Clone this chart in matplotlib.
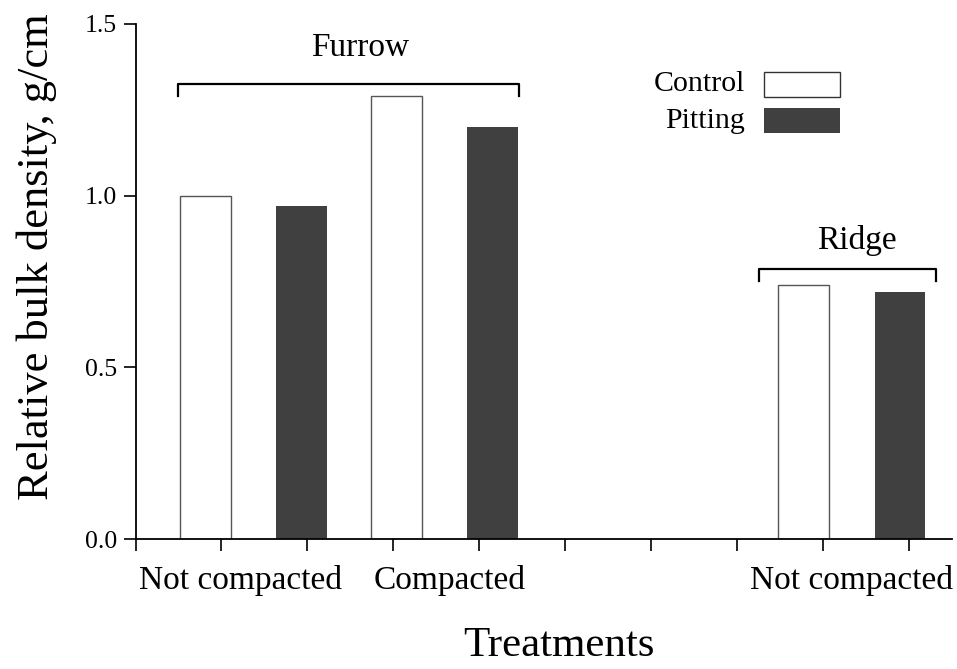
import matplotlib.pyplot as plt
from matplotlib.patches import Rectangle

plt.rcParams['font.family'] = ['Liberation Serif', 'DejaVu Serif']

# bar data
control_x = [0.815, 3.04, 7.78]
control_vals = [1.00, 1.29, 0.74]
pitting_x = [1.93, 4.16, 8.90]
pitting_vals = [0.97, 1.20, 0.72]
bar_width = 0.59

cat_labels = ["Not compacted", "Compacted", "Not compacted"]
cat_x = [1.22, 3.66, 8.33]

yticks = [0.0, 0.5, 1.0, 1.5]
ytick_labels = ["0.0", "0.5", "1.0", "1.5"]

dark = "#404040"

fig = plt.figure(figsize=(9.57, 6.69), dpi=100)
ax = fig.add_axes([135.5 / 957, 1 - 539 / 669, 816 / 957, 515 / 669])

ax.bar(control_x, control_vals, width=bar_width, color="white",
       edgecolor="#555555", linewidth=1.0)
ax.bar(pitting_x, pitting_vals, width=bar_width, color=dark, edgecolor="none")

ax.set_xlim(0, 9.5)
ax.set_ylim(0, 1.5)
ax.set_xticks(range(10))
ax.set_xticklabels([])
ax.set_yticks(yticks)
ax.set_yticklabels(ytick_labels, fontsize=18.5)
ax.tick_params(direction="out", length=8.5, width=1.2)
ax.tick_params(axis="y", pad=5)

for s in ["top", "right"]:
    ax.spines[s].set_visible(False)
for s in ["left", "bottom"]:
    ax.spines[s].set_linewidth(1.3)

# category labels below the axis
for x, lab in zip(cat_x, cat_labels):
    ax.text(x, -0.12, lab, ha="center", va="center", fontsize=24,
            clip_on=False)

# group brackets
def bracket(x0, x1, y, drop, label, tx, ty):
    ax.plot([x0, x0, x1, x1], [y - drop, y, y, y - drop], color="black",
            lw=1.6, clip_on=False)
    ax.text(tx, ty, label, ha="center", va="center", fontsize=24)

bracket(0.5, 4.46, 1.325, 0.035, "Furrow", 2.61, 1.43)
bracket(7.26, 9.32, 0.786, 0.035, "Ridge", 8.4, 0.868)

# legend drawn by hand
legend_items = [("Control", "white", "#333333"), ("Pitting", dark, "none")]
leg_y = [84, 120.5]
for (lab, fc, ec), py in zip(legend_items, leg_y):
    fy = 1 - py / 669
    fig.text(745 / 957, fy, lab, ha="right", va="center", fontsize=21.5)
    fig.patches.append(Rectangle((764 / 957, fy - 12.5 / 669), 76 / 957,
                                 25 / 669, transform=fig.transFigure,
                                 facecolor=fc, edgecolor=ec, lw=1.0))

fig.text(37 / 957, 1 - 257 / 669, "Relative bulk density, g/cm",
         rotation=90, ha="center", va="center", fontsize=32)
fig.text(559 / 957, 1 - 646 / 669, "Treatments", ha="center", va="center",
         fontsize=31)

fig.savefig("out.png", dpi=100)
